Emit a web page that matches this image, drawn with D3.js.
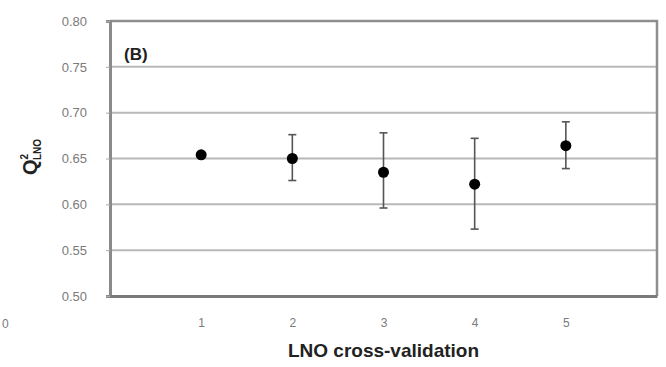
<!DOCTYPE html>
<html>
<head>
<meta charset="utf-8">
<script src="https://cdn.jsdelivr.net/npm/d3@7"></script>
<style>
  html, body { margin: 0; padding: 0; background: #fff; }
  svg { display: block; font-family: "Liberation Sans", Arial, sans-serif; }
</style>
</head>
<body>
<svg id="chart" width="666" height="367"></svg>
<script>
// LNO cross-validation runs and their Q² values with error ranges
const runs = [1, 2, 3, 4, 5];
const q2Mean = [0.654, 0.650, 0.635, 0.622, 0.664];
const q2Low  = [0.654, 0.626, 0.596, 0.573, 0.639];
const q2High = [0.654, 0.676, 0.678, 0.672, 0.690];
const yTicks = [0.50, 0.55, 0.60, 0.65, 0.70, 0.75, 0.80];

const svg = d3.select("#chart");
const margin = { left: 110, right: 9, top: 21, bottom: 71 };
const W = 666, H = 367;

const x = d3.scaleLinear().domain([0, 6]).range([margin.left, W - margin.right]);
const y = d3.scaleLinear().domain([0.50, 0.80]).range([H - margin.bottom, margin.top]);

// horizontal gridlines
svg.append("g")
  .selectAll("line")
  .data(yTicks.filter(t => t > 0.5 && t < 0.8))
  .join("line")
  .attr("x1", x(0)).attr("x2", x(6))
  .attr("y1", d => y(d)).attr("y2", d => y(d))
  .attr("stroke", "#b8b8b8").attr("stroke-width", 2);

// top and right borders
svg.append("path")
  .attr("d", `M${x(0)},${y(0.80)}H${x(6)}V${y(0.50)}`)
  .attr("fill", "none")
  .attr("stroke", "#8e8e8e").attr("stroke-width", 2.5);

// y axis
const yAxis = d3.axisLeft(y).tickValues(yTicks).tickFormat(d3.format(".2f")).tickSize(4).tickPadding(19);
const gy = svg.append("g").attr("transform", `translate(${x(0)},0)`).call(yAxis);
gy.select(".domain").attr("stroke", "#8a8a8a").attr("stroke-width", 3);
gy.selectAll(".tick line").attr("stroke", "#aaa");
gy.selectAll(".tick text").attr("fill", "#7a7a7a").attr("font-size", 13)
  .attr("font-family", "'Liberation Sans', Arial, sans-serif");

// x axis
const xAxis = d3.axisBottom(x).tickValues(runs).tickFormat(d3.format("d")).tickSize(0).tickPadding(22);
const gx = svg.append("g").attr("transform", `translate(0,${y(0.50)})`).call(xAxis);
gx.select(".domain").attr("stroke", "#7a7a7a").attr("stroke-width", 3);
gx.selectAll(".tick text").attr("fill", "#7a7a7a").attr("font-size", 12)
  .attr("font-family", "'Liberation Sans', Arial, sans-serif");

// neighbouring panel's axis label at the edge
svg.append("text").attr("x", 2).attr("y", 328).attr("fill", "#7a7a7a").attr("font-size", 12).text("0");

// error bars
const eb = svg.append("g").attr("stroke", "#555").attr("stroke-width", 1.6);
runs.forEach((r, i) => {
  if (q2High[i] === q2Low[i]) return;
  const cx = x(r);
  eb.append("line").attr("x1", cx).attr("x2", cx).attr("y1", y(q2Low[i])).attr("y2", y(q2High[i]));
  eb.append("line").attr("x1", cx - 4).attr("x2", cx + 4).attr("y1", y(q2Low[i])).attr("y2", y(q2Low[i]));
  eb.append("line").attr("x1", cx - 4).attr("x2", cx + 4).attr("y1", y(q2High[i])).attr("y2", y(q2High[i]));
});

// points
svg.append("g")
  .selectAll("circle")
  .data(runs)
  .join("circle")
  .attr("cx", d => x(d))
  .attr("cy", (d, i) => y(q2Mean[i]))
  .attr("r", 5.5)
  .attr("fill", "#000");

// panel tag
svg.append("text").attr("x", 124).attr("y", 60).attr("font-size", 17).attr("font-weight", "bold")
  .attr("fill", "#222").text("(B)");

// axis titles
svg.append("text").attr("x", (x(0) + x(6)) / 2).attr("y", 357).attr("text-anchor", "middle")
  .attr("font-size", 19).attr("font-weight", "bold").attr("fill", "#222").text("LNO cross-validation");

const yt = svg.append("text").attr("transform", `translate(37,157) rotate(-90)`)
  .attr("text-anchor", "middle").attr("fill", "#222");
yt.append("tspan").attr("font-size", 20).attr("font-weight", "bold").text("Q");
yt.append("tspan").attr("font-size", 10).attr("font-weight", "bold").attr("dy", -9).text("2");
yt.append("tspan").attr("font-size", 10).attr("font-weight", "bold").attr("dx", -6).attr("dy", 13).text("LNO");
</script>
</body>
</html>
